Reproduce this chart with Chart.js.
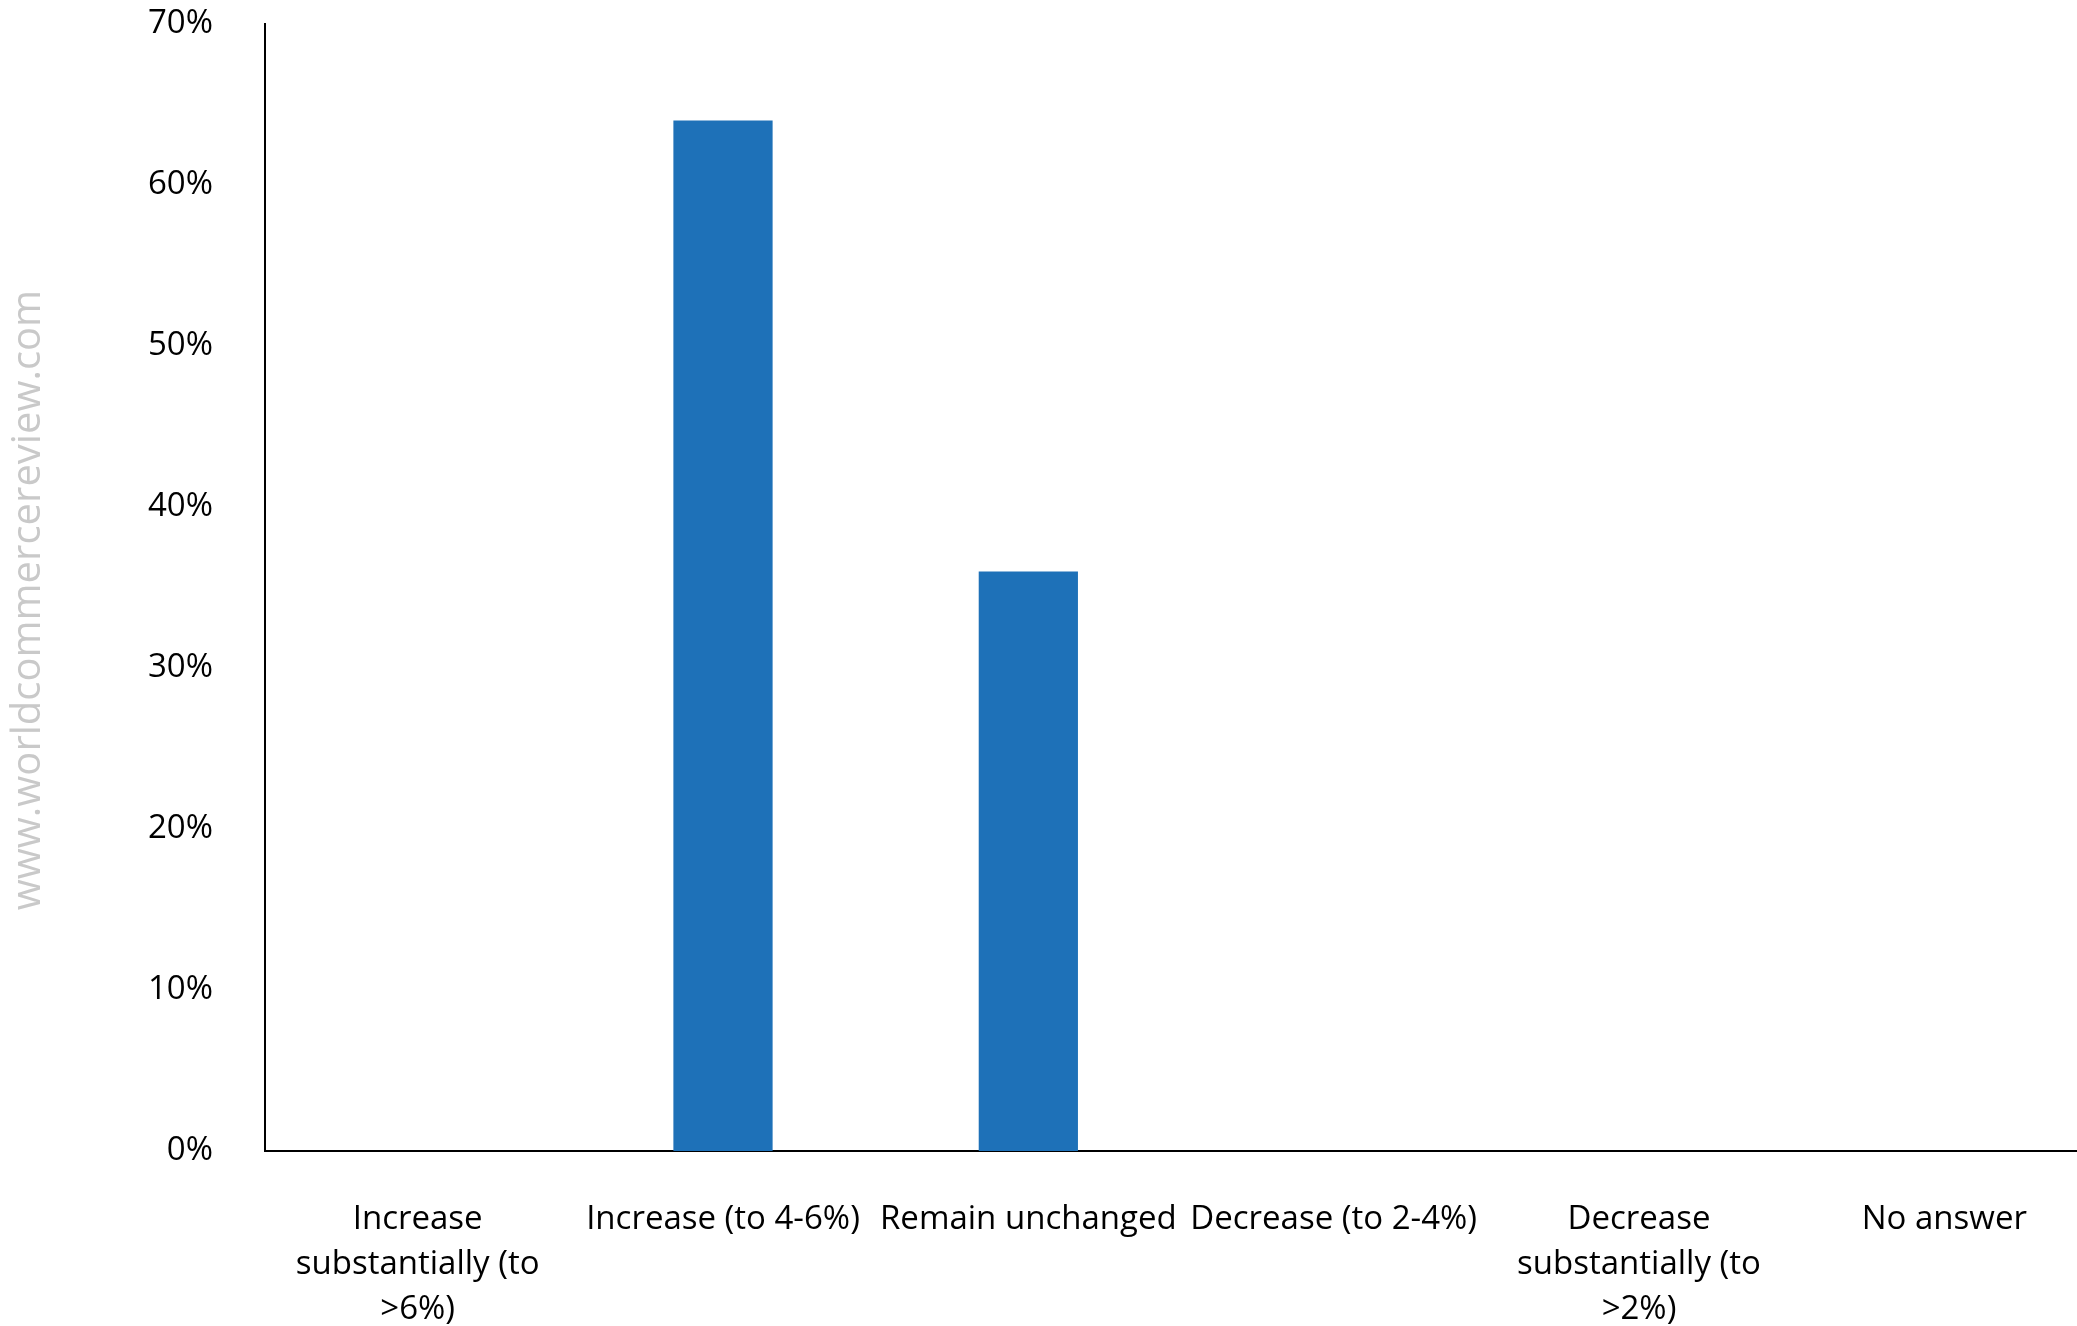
<!DOCTYPE html>
<html>
<head>
<meta charset="utf-8">
<script src="https://cdn.jsdelivr.net/npm/chart.js@4.4.1/dist/chart.umd.min.js"></script>
<style>
  html, body { margin: 0; padding: 0; background: #fff; overflow: hidden; }
  /* the plot runs a little past the right edge of the window */
  #wrap { width: 2097px; height: 1326px; }
</style>
</head>
<body>
<div id="wrap"><canvas id="chart"></canvas></div>
<script>
// answers (multi-line labels, wrapped like the printed chart)
const categories = [
    ['Increase', 'substantially (to', '>6%)'],
    'Increase (to 4-6%)',
    'Remain unchanged',
    'Decrease (to 2-4%)',
    ['Decrease', 'substantially (to', '>2%)'],
    'No answer'
];
const shares = [0, 64, 36, 0, 0, 0];
const yTicks = [0, 10, 20, 30, 40, 50, 60, 70];

const fontFamily = '"Open Sans", "Noto Sans", sans-serif';

// side watermark
const watermark = {
    id: 'watermark',
    afterDraw(chart) {
        const ctx = chart.ctx;
        ctx.save();
        ctx.translate(29, 600);
        ctx.rotate(-Math.PI / 2);
        ctx.font = '40px ' + fontFamily;
        ctx.fillStyle = '#c9c9c9';
        ctx.textAlign = 'center';
        ctx.textBaseline = 'middle';
        ctx.fillText('www.worldcommercereview.com', 0, 0);
        ctx.restore();
    }
};

const ctx = document.getElementById('chart').getContext('2d');

new Chart(ctx, {
    type: 'bar',
    data: {
        labels: categories,
        datasets: [{
            data: shares,
            backgroundColor: '#1e71b8',
            borderWidth: 0,
            barPercentage: 0.325,
            categoryPercentage: 1.0
        }]
    },
    options: {
        responsive: true,
        maintainAspectRatio: false,
        animation: false,
        layout: {
            padding: { top: 24, right: 0, bottom: 0, left: 0 }
        },
        scales: {
            x: {
                grid: { display: false, drawTicks: false },
                border: { display: true, color: '#000', width: 2 },
                ticks: {
                    color: '#000',
                    maxRotation: 0,
                    autoSkip: false,
                    padding: 46,
                    font: { family: fontFamily, size: 33, lineHeight: 1.37 }
                },
                afterFit(scale) {
                    scale.height = 175;
                    scale.paddingLeft = 0;
                    scale.paddingRight = 0;
                }
            },
            y: {
                min: 0,
                max: 70,
                afterBuildTicks(scale) {
                    scale.ticks = yTicks.map(v => ({ value: v }));
                },
                grid: { display: false, drawTicks: false },
                border: { display: true, color: '#000', width: 2 },
                ticks: {
                    color: '#000',
                    padding: 52,
                    font: { family: fontFamily, size: 33 },
                    callback: value => value + '%'
                },
                afterFit(scale) {
                    scale.width = 265;
                    scale.paddingTop = 0;
                    scale.paddingBottom = 0;
                }
            }
        },
        plugins: {
            legend: { display: false },
            tooltip: { enabled: false }
        }
    },
    plugins: [watermark]
});
</script>
</body>
</html>
